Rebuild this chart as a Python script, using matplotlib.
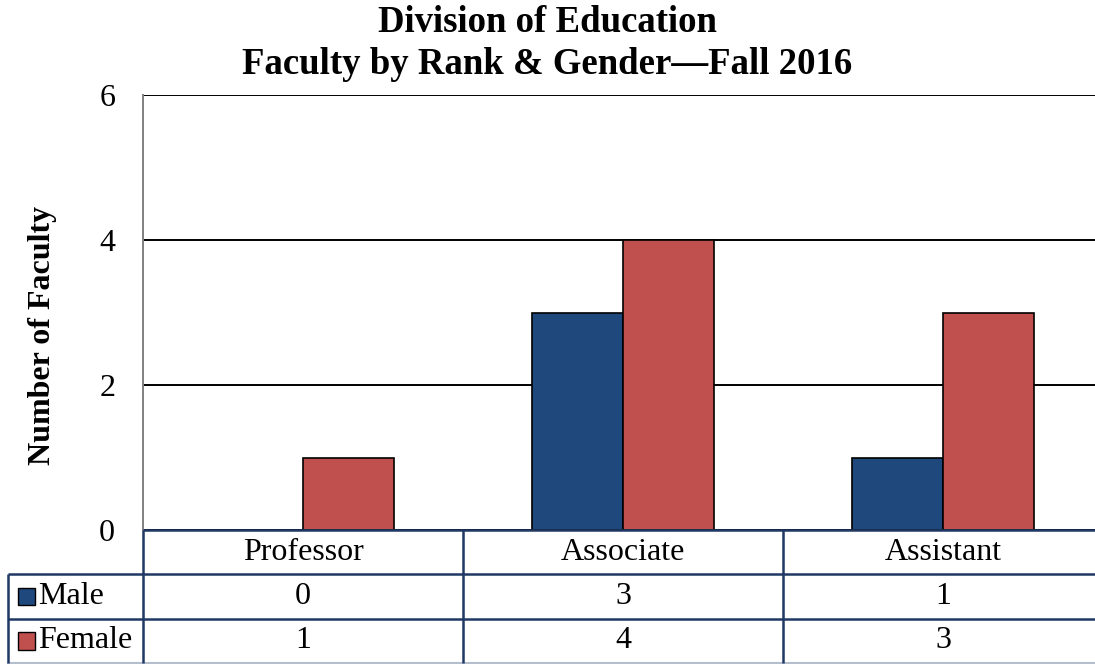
import numpy as np
import matplotlib.pyplot as plt
from matplotlib.patches import Rectangle

plt.rcParams['font.family'] = ['Liberation Serif', 'DejaVu Serif']

# data
categories = ["Professor", "Associate", "Assistant"]
series = ["Male", "Female"]
male = [0, 3, 1]
female = [1, 4, 3]
colors = ["#1F497D", "#C0504D"]
navy = "#1F3864"

W, H = 1095, 664
fig = plt.figure(figsize=(W/100, H/100), dpi=100)

def fx(px):
    return px / W

def fy(py):
    return 1 - py / H

# main plot area (pixels: x 143..1103, y 95..530)
ax = fig.add_axes([fx(143), fy(530), fx(960), (530-95)/H])
x = np.arange(len(categories))
bw = 0.285
ax.bar(x - bw/2, male, bw, color=colors[0], edgecolor="black", linewidth=1.2, zorder=3)
ax.bar(x + bw/2, female, bw, color=colors[1], edgecolor="black", linewidth=1.2, zorder=3)
ax.set_xlim(-0.5, 2.5)
ax.set_ylim(0, 6)
ax.set_yticks([0, 2, 4, 6])
ax.tick_params(axis='y', length=0, labelsize=23, pad=20)
ax.set_xticks([])
ax.yaxis.grid(True, color="black", linewidth=1.4, zorder=0)
for s in ["top", "right", "bottom"]:
    ax.spines[s].set_visible(False)
ax.spines["left"].set_color("#808080")
ax.spines["left"].set_linewidth(1.4)
ax.set_ylabel("Number of Faculty", fontsize=23, fontweight="bold")
ax.yaxis.set_label_coords((57-143)/960, (530-335)/435)

fig.text(0.5, fy(23), "Division of Education", ha="center", va="center",
         fontsize=26.5, fontweight="bold")
fig.text(0.5, fy(65), "Faculty by Rank & Gender\u2014Fall 2016", ha="center", va="center",
         fontsize=26.5, fontweight="bold")

# data table below the plot, in category coordinates
tax = fig.add_axes([fx(143), fy(663), fx(960), (663-530)/H])
tax.set_xlim(-0.5, 2.5)
tax.set_ylim(3, 0)
tax.axis("off")
left = -0.5 - (143-8)/320
lw = 1.8
kw = dict(color=navy, linewidth=lw, clip_on=False, solid_capstyle="butt")
tax.plot([-0.5, 2.6], [0, 0], **kw)
tax.plot([left, 2.6], [1, 1], **kw)
tax.plot([left, 2.6], [2, 2], **kw)
tax.plot([left, 2.6], [3, 3], color="#B4BECD", linewidth=1.5, clip_on=False)
tax.plot([left, left], [1, 3], **kw)
for b in [-0.5, 0.5, 1.5]:
    tax.plot([b, b], [0, 3], **kw)

for i, c in enumerate(categories):
    tax.text(i, 0.5, c, ha="center", va="center", fontsize=23)
for r, (name, vals, col) in enumerate(zip(series, [male, female], colors)):
    yy = r + 1.5
    for i, v in enumerate(vals):
        tax.text(i, yy, str(v), ha="center", va="center", fontsize=23)
    tax.add_patch(Rectangle((left + 0.032, yy - 0.2), 0.052, 0.4, facecolor=col,
                            edgecolor="black", linewidth=1, clip_on=False))
    tax.text(left + 0.095, yy, name, ha="left", va="center", fontsize=23)

fig.savefig("out.png", dpi=100)
